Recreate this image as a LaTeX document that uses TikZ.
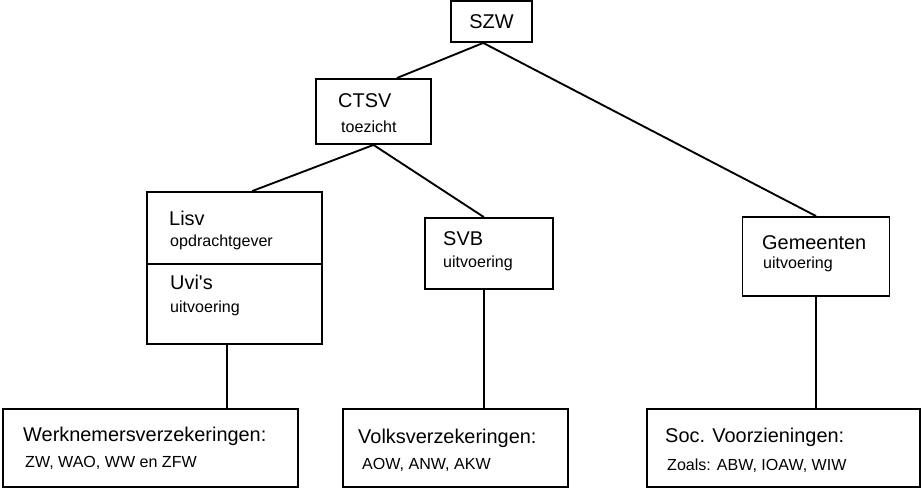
\documentclass[tikz,border=0pt]{standalone}
\usepackage{fontspec}
\setmainfont{Liberation Sans}[Ligatures=TeXOff]
\usepackage{tikz}
\usetikzlibrary{calc}
\tikzset{
  bx/.style 2 args={draw=black, line width=1.6pt, inner sep=0pt,
             minimum width=#1*0.03cm, minimum height=#2*0.03cm,
             font=\fontsize{17}{20}\selectfont},
  tbig/.style={anchor=west, inner sep=0pt, text height=12pt, text depth=0pt,
               font=\fontsize{17}{20}\selectfont},
  tsml/.style={anchor=west, inner sep=0pt, text height=10pt, text depth=0pt,
               font=\fontsize{13.7}{16}\selectfont},
  ln/.style={line width=1.6pt},
}
\begin{document}
\begin{tikzpicture}[x=0.03cm, y=-0.03cm]
  \useasboundingbox (0,0) rectangle (922,488);
  % boxes
  \node[bx={81}{41}]  (szw)   at (491.5,21.5){SZW};
  \node[bx={115}{65}] (ctsv)  at (373.5,111.5){};
  \node[bx={175}{152}](lisv)  at (234.5,268){};
  \node[bx={128}{71}] (svb)   at (489,253.5){};
  \node[bx={147}{79}] (gem)   at (816,256.5){};
  \node[bx={295}{78}] (werk)  at (150.5,448){};
  \node[bx={225}{78}] (volks) at (455.5,448){};
  \node[bx={273}{78}] (soc)   at (783.5,448){};
  \draw[ln] (lisv.west |- 0,264) -- (lisv.east |- 0,264);
  % texts
  \node[tbig] (ctsvA)  at (338,100){CTSV};
  \node[tsml] (ctsvB)  at (341,127){toezicht};
  \node[tbig] (lisvA)  at (169,218){Lisv};
  \node[tsml] (lisvB)  at (170,241){opdrachtgever};
  \node[tbig] (uviA)   at (170,282){Uvi's};
  \node[tsml] (uviB)   at (170,307){uitvoering};
  \node[tbig] (svbA)   at (443,238){SVB};
  \node[tsml] (svbB)   at (443,262){uitvoering};
  \node[tbig] (gemA)   at (762,242){Gemeenten};
  \node[tsml] (gemB)   at (763,263){uitvoering};
  \node[tbig] (werkA)  at (23,434){Werknemersverzekeringen:};
  \node[tsml] (werkB)  at (25,462){ZW, WAO, WW en ZFW};
  \node[tbig] (volksA) at (358,436){Volksverzekeringen:};
  \node[tsml] (volksB) at (362,464){AOW, ANW, AKW};
  \node[tbig] (socA)   at (665,435){Soc. Voorzieningen:};
  \node[tsml] (socB)   at (667,465){Zoals: ABW, IOAW, WIW};
  % connectors
  \coordinate (szwS)  at ($(szw.south west)!0.4!(szw.south east)$);
  \coordinate (ctsvN) at ($(ctsv.north west)!0.7!(ctsv.north east)$);
  \coordinate (lisvN) at ($(lisv.north west)!0.6!(lisv.north east)$);
  \coordinate (svbN)  at ($(svb.north west)!0.46!(svb.north east)$);
  \coordinate (lisvS) at ($(lisv.south west)!0.46!(lisv.south east)$);
  \coordinate (svbS)  at ($(svb.south west)!0.46!(svb.south east)$);
  \draw[ln] (szwS) -- (ctsvN);
  \draw[ln] (szwS) -- (gem.north);
  \draw[ln] (ctsv.south) -- (lisvN);
  \draw[ln] (ctsv.south) -- (svbN);
  \draw[ln] (lisvS) -- (lisvS |- werk.north);
  \draw[ln] (svbS) -- (svbS |- volks.north);
  \draw[ln] (gem.south) -- (gem.south |- soc.north);
\end{tikzpicture}
\end{document}
